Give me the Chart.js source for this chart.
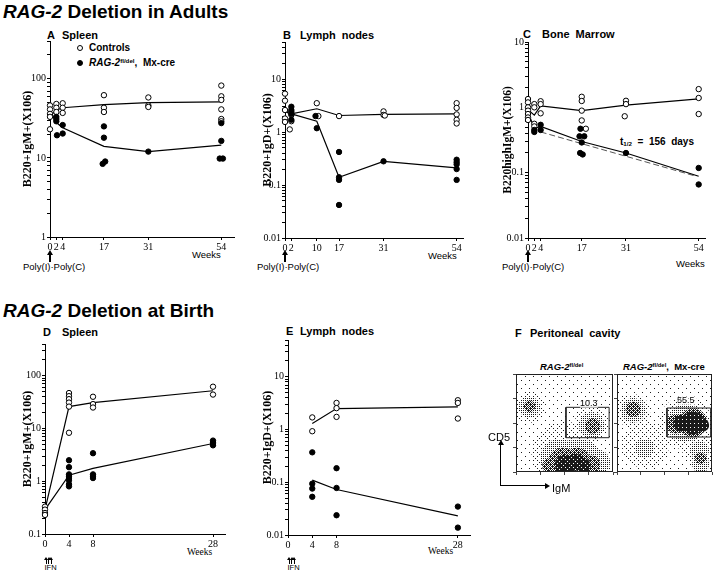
<!DOCTYPE html>
<html>
<head>
<meta charset="utf-8">
<title>RAG-2 deletion</title>
<script src="https://cdn.jsdelivr.net/npm/chart.js@4.4.1/dist/chart.umd.min.js"></script>
<style>
  html, body { margin: 0; padding: 0; background: #fff; }
  body { position: relative; width: 720px; height: 573px; overflow: hidden; font-family: "Liberation Sans", Arial, sans-serif; color: #000; }
  canvas { position: absolute; }
  .t { position: absolute; white-space: nowrap; line-height: 1; }
  .h { font-size: 19px; font-weight: bold; }
  .p { font-size: 11px; font-weight: bold; word-spacing: 3px; }
  .s { font-size: 9.5px; }
  .serif { font-family: "Liberation Serif", "Times New Roman", serif; }
  sup { font-size: 62%; vertical-align: 0.55em; line-height: 0; }
  sub { font-size: 62%; vertical-align: -0.2em; line-height: 0; }
  .head { position: absolute; width: 0; height: 0; border-left: 3px solid transparent; border-right: 3px solid transparent; border-bottom: 5px solid #000; }
  .small { border-left-width: 2px; border-right-width: 2px; border-bottom-width: 3px; }
  .right { position: absolute; width: 0; height: 0; border-top: 3px solid transparent; border-bottom: 3px solid transparent; border-left: 5px solid #000; }
  .bar { position: absolute; background: #000; }
  .dot { position: absolute; width: 6px; height: 6px; border-radius: 50%; border: 1px solid #000; box-sizing: border-box; }
</style>
</head>
<body>

<!-- top row -->
<div class="t h" style="left:3px;top:2px"><i>RAG-2</i> Deletion in Adults</div>

<div class="t p" style="left:47px;top:29.6px">A</div>
<div class="t p" style="left:62px;top:29.6px">Spleen</div>
<div class="dot" style="left:77px;top:45.3px;background:#fff"></div>
<div class="t" style="left:89px;top:43.4px;font-size:10px;font-weight:bold">Controls</div>
<div class="dot" style="left:77px;top:59.7px;background:#000"></div>
<div class="t" style="left:89px;top:57.8px;font-size:10px;font-weight:bold"><i>RAG-2</i><sup>fl/del</sup>,&nbsp; Mx-cre</div>
<div class="t s" style="left:192px;top:250.4px">Weeks</div>
<div class="head" style="left:47px;top:250px"></div><div class="bar" style="left:49px;top:255px;width:2px;height:7px"></div>
<div class="t s" style="left:23px;top:262px">Poly(I)·Poly(C)</div>

<div class="t p" style="left:283px;top:29.6px">B</div>
<div class="t p" style="left:300px;top:29.6px">Lymph nodes</div>
<div class="t s" style="left:428px;top:251.4px">Weeks</div>
<div class="head" style="left:282px;top:250px"></div><div class="bar" style="left:284px;top:255px;width:2px;height:7px"></div>
<div class="t s" style="left:257px;top:262px">Poly(I)·Poly(C)</div>

<div class="t p" style="left:523px;top:28.6px">C</div>
<div class="t p" style="left:542px;top:28.6px">Bone Marrow</div>
<div class="t" style="left:620px;top:137px;font-size:10px;font-weight:bold">t<sub>1/2</sub>&nbsp; = &nbsp;156&nbsp; days</div>
<div class="t s" style="left:676px;top:258.7px">Weeks</div>
<div class="head" style="left:525px;top:250px"></div><div class="bar" style="left:527px;top:255px;width:2px;height:7px"></div>
<div class="t s" style="left:502px;top:262px">Poly(I)·Poly(C)</div>

<!-- bottom row -->
<div class="t h" style="left:3px;top:300.7px"><i>RAG-2</i> Deletion at Birth</div>

<div class="t p" style="left:43px;top:326.6px">D</div>
<div class="t p" style="left:62px;top:326.6px">Spleen</div>
<div class="t s serif" style="left:187px;top:548.2px">Weeks</div>
<div class="head small" style="left:44px;top:556.5px"></div><div class="bar" style="left:45.5px;top:559.5px;width:1px;height:4px"></div>
<div class="head small" style="left:46.5px;top:556.5px"></div><div class="bar" style="left:48px;top:559.5px;width:1px;height:4px"></div>
<div class="head small" style="left:49px;top:556.5px"></div><div class="bar" style="left:50.5px;top:559.5px;width:1px;height:4px"></div>
<div class="t" style="left:44.5px;top:564px;font-size:7.5px">IFN</div>

<div class="t p" style="left:286px;top:325.6px">E</div>
<div class="t p" style="left:300px;top:325.6px">Lymph nodes</div>
<div class="t s serif" style="left:428px;top:546.9px">Weeks</div>
<div class="head small" style="left:287px;top:556.5px"></div><div class="bar" style="left:288.5px;top:559.5px;width:1px;height:4px"></div>
<div class="head small" style="left:289.5px;top:556.5px"></div><div class="bar" style="left:291px;top:559.5px;width:1px;height:4px"></div>
<div class="head small" style="left:292px;top:556.5px"></div><div class="bar" style="left:293.5px;top:559.5px;width:1px;height:4px"></div>
<div class="t" style="left:287.5px;top:564px;font-size:7.5px">IFN</div>

<div class="t p" style="left:515px;top:328px">F</div>
<div class="t p" style="left:530px;top:328px">Peritoneal cavity</div>
<div class="t" style="left:540px;top:362px;font-size:9.5px;font-weight:bold"><i>RAG-2</i><sup>fl/del</sup></div>
<div class="t" style="left:623px;top:362px;font-size:9.5px;font-weight:bold"><i>RAG-2</i><sup>fl/del</sup>,&nbsp; Mx-cre</div>

<canvas id="chartA"></canvas>
<canvas id="chartB"></canvas>
<canvas id="chartC"></canvas>
<canvas id="chartD"></canvas>
<canvas id="chartE"></canvas>
<canvas id="chartF1"></canvas>
<canvas id="chartF2"></canvas>

<div class="t" style="left:580px;top:398.6px;font-size:9px;background:rgba(255,255,255,0.6)">10.3</div>
<div class="t" style="left:677px;top:395.6px;font-size:9px;background:rgba(255,255,255,0.6)">55.5</div>
<div class="t" style="left:488px;top:431.6px;font-size:11px">CD5</div>
<div class="t" style="left:552px;top:482.6px;font-size:11px">IgM</div>
<div class="head" style="left:497.5px;top:440px"></div><div class="bar" style="left:500px;top:445px;width:1px;height:41px"></div>
<div class="bar" style="left:500px;top:485px;width:46px;height:1px"></div><div class="right" style="left:545px;top:482.5px"></div>

<script>
// A - spleen, deletion in adults (cells x10^6)
const aWeeks = [0, 2, 4, 17, 31, 54];
const aCtrlMean = [34, 40, 43, 47, 50, 51];
const aDelMean = [40, 28, 24, 14, 12, 14.5];
const aCtrl = [[0, 46], [0, 41], [0, 36], [0, 33], [0, 23], [2, 48], [2, 43], [2, 38], [4, 49], [4, 43], [4, 37],
  [17, 62], [17, 43], [17, 38], [31, 58], [31, 46], [31, 44], [54, 82], [54, 60], [54, 54], [54, 41], [54, 31], [54, 29]];
const aDel = [[2, 33], [2, 31], [2, 29], [2.2, 19.3], [4, 26], [4, 20.3], [17, 25], [17, 18], [16.6, 8.4], [17.4, 9],
  [31, 12], [54, 27.5], [54, 16.4], [53.5, 9.8], [54.5, 9.8]];
const aXTicks = [0, 2, 4, 17, 31, 54];
const aYTicks = [1, 10, 100];

// B - lymph nodes, deletion in adults
const bWeeks = [0, 2, 10, 17, 31, 54];
const bCtrlMean = [2.6, 2.2, 2.75, 2.05, 2.15, 2.2];
const bDelMean = [2.4, 2.2, 1.6, 0.14, 0.28, 0.21];
const bCtrl = [[0, 5.3], [0, 3.9], [0, 2.6], [0, 1.8], [0, 1.55], [2, 2.4], [2, 2.1], [2, 1.6], [1.5, 1.12],
  [10, 3.5], [10.5, 2.0], [17, 2.0], [31, 2.45], [31, 2.1], [31.4, 2.05],
  [54, 3.5], [54, 2.85], [54, 2.15], [54, 1.7], [54, 1.45]];
const bDel = [[2, 3.0], [2, 2.6], [2, 2.2], [2, 1.7], [9.6, 2.0], [10, 1.18], [17, 0.42], [17, 0.14], [17, 0.125],
  [17, 0.042], [31, 0.28], [54, 0.3], [54, 0.27], [54, 0.245], [54, 0.2], [54, 0.125]];
const bXTicks = [0, 2, 10, 17, 31, 54];
const bYTicks = [0.01, 0.1, 1, 10];

// C - bone marrow, deletion in adults
const cWeeks = [0, 2, 4, 17, 31, 54];
const cCtrlMean = [0.92, 0.76, 1.05, 0.89, 1.08, 1.35];
const cDelMean = [0.85, 0.47, 0.51, 0.3, 0.2, 0.088];
const cCtrl = [[0, 1.34], [0, 1.19], [0, 1.0], [0, 0.89], [0, 0.79], [0, 0.7], [0, 0.64], [2, 1.12], [2, 1.0],
  [2, 0.56], [2, 0.51], [4, 1.24], [4, 1.12], [4, 0.81], [17, 1.45], [17, 1.25], [17, 0.89], [17, 0.63], [18.3, 0.47],
  [31, 1.26], [31, 1.12], [30.6, 0.73], [54, 1.9], [54, 1.39], [54, 0.79]];
const cDel = [[2, 0.45], [2, 0.42], [4, 0.54], [4, 0.45], [16.6, 0.47], [16.3, 0.36], [17.8, 0.36], [17, 0.29],
  [16.5, 0.2], [17.3, 0.19], [31, 0.2], [54, 0.118], [54, 0.066]];
const cHalfLife = [[4, 0.42], [52.5, 0.09]];
const cXTicks = [0, 2, 4, 17, 31, 54];
const cYTicks = [0.01, 0.1, 1, 10];

// D - spleen, deletion at birth
const dWeeks = [0, 4, 8, 28];
const dCtrlMean = [0.29, 26, 31, 52];
const dDelMean = [0.29, 1.3, 1.75, 5.2];
const dCtrl = [[0, 0.33], [0, 0.29], [0, 0.25], [0, 0.23], [4, 47], [4, 41], [4, 36], [4, 31], [4, 26], [4, 8.3],
  [8, 40], [8, 29], [8, 25], [28, 62], [28, 44]];
const dDel = [[4, 2.5], [4, 1.85], [4, 1.35], [4, 1.25], [4, 1.15], [4, 1.05], [4, 0.88], [4, 0.8],
  [8, 3.4], [8, 1.35], [8, 1.25], [8, 1.15], [28, 5.9], [28, 5.5], [28, 5.1], [28, 4.8]];
const dXTicks = [0, 4, 8, 28];
const dYTicks = [0.1, 1, 10, 100];

// E - lymph nodes, deletion at birth
const eWeeks = [4, 8, 28];
const eCtrlMean = [1.3, 2.5, 2.7];
const eDelMean = [0.11, 0.073, 0.023];
const eCtrl = [[4, 1.7], [4, 0.93], [8, 3.2], [8, 2.55], [8, 1.74], [28, 3.6], [28, 3.2], [28, 1.62]];
const eDel = [[4, 0.37], [4, 0.094], [4, 0.076], [4, 0.053], [8, 0.185], [8, 0.078], [8, 0.0237],
  [28, 0.0346], [28, 0.0138]];
const eXTicks = [0, 4, 8, 28];
const eYTicks = [0.01, 0.1, 1, 10];

// F - peritoneal cavity, CD5 vs IgM (0-100 plot units); blobs are [IgM, CD5, spread]
const fLeftHaze = [[50, 40, 75]];
const fLeftSparse = [[50, 18, 34], [14, 66, 16], [78, 48, 18]];
const fLeftMid = [[14, 66, 11], [78, 48, 13], [45, 14, 20], [65, 12, 22], [84, 10, 13]];
const fLeftDense = [[14, 67, 6], [79, 47, 8], [48, 10, 15], [63, 12, 13], [36, 6, 9], [78, 8, 9]];
const fLeftCore = [[50, 8, 10], [61, 10, 9], [70, 7, 7]];
const fLeftGateX = [51.5, 96];
const fLeftGateY = [35, 66];

const fRightHaze = [[50, 40, 75]];
const fRightSparse = [[30, 28, 25], [86, 25, 18], [17, 62, 18], [72, 50, 28]];
const fRightMid = [[17, 63, 13], [72, 50, 20], [87, 22, 10], [88, 8, 9], [29, 24, 10]];
const fRightDense = [[17, 64, 8], [80, 50, 15], [62, 49, 10], [88, 14, 6]];
const fRightCore = [[80, 50, 12], [68, 50, 9], [90, 48, 7]];
const fRightGateX = [52.6, 98.6];
const fRightGateY = [35.7, 65.3];

const SERIF = '"Liberation Serif", "Times New Roman", serif';
Chart.defaults.animation = false;
Chart.defaults.font.family = SERIF;

function pts(list) { return list.map(([x, y]) => ({ x, y })); }
function meanLine(weeks, vals) { return weeks.map((w, i) => ({ x: w, y: vals[i] })); }

function logTicks(min, max) {
  const out = [];
  for (let e = Math.floor(Math.log10(min)); e <= Math.ceil(Math.log10(max)); e++) {
    for (let m = 1; m <= 9; m++) {
      const v = m * Math.pow(10, e);
      if (v >= min * 0.999 && v <= max * 1.001) out.push(v);
    }
  }
  return out;
}

function decadeLabel(v, list) {
  const hit = list.find(t => Math.abs(Math.log10(t) - Math.log10(v)) < 1e-6);
  return hit === undefined ? '' : String(hit);
}

function place(cv, left, top, w, h) {
  cv.width = Math.round(w);
  cv.height = Math.round(h);
  cv.style.left = left + 'px';
  cv.style.top = top + 'px';
}

// box = chart area edges in page pixels
function timeCourse(id, box, o) {
  const padTop = 8, padRight = 6, xAxisH = 16;
  const yAxisW = Math.round(box.l - (o.titleX - 7.2));
  place(document.getElementById(id), box.l - yAxisW, box.t - padTop,
    yAxisW + box.r - box.l + padRight, padTop + box.b - box.t + xAxisH);

  const datasets = [
    { data: pts(o.ctrl), pointRadius: 2.7, pointBackgroundColor: '#fff', pointBorderColor: '#000', pointBorderWidth: 1, order: 1, clip: false },
    { data: pts(o.del), pointRadius: 2.7, pointBackgroundColor: '#000', pointBorderColor: '#000', pointBorderWidth: 1, order: 0, clip: false },
    { data: meanLine(o.weeks, o.ctrlMean), showLine: true, pointRadius: 0, borderColor: '#000', borderWidth: 1.2, order: 3 },
    { data: meanLine(o.weeks, o.delMean), showLine: true, pointRadius: 0, borderColor: '#000', borderWidth: 1.2, order: 3 }
  ];
  if (o.fit) {
    datasets.push({ data: pts(o.fit), showLine: true, pointRadius: 0, borderColor: '#555', borderWidth: 1, borderDash: [6, 3], order: 4 });
  }

  const axisFont = { family: SERIF, size: 10 };
  new Chart(document.getElementById(id), {
    type: 'scatter',
    data: { datasets },
    options: {
      responsive: false,
      events: [],
      layout: { padding: { top: padTop, right: padRight, left: 0, bottom: 0 } },
      plugins: { legend: { display: false }, tooltip: { enabled: false } },
      scales: {
        x: {
          type: 'linear', min: 0, max: o.xMax,
          afterBuildTicks: s => { s.ticks = o.xTicks.map(v => ({ value: v })); },
          afterFit: s => { s.height = xAxisH; },
          ticks: { autoSkip: false, maxRotation: 0, padding: 1, color: '#000', font: axisFont },
          grid: { drawOnChartArea: false, tickLength: 3, color: '#000' },
          border: { color: '#000', width: 1 }
        },
        y: {
          type: 'logarithmic', min: o.yMin, max: o.yMax,
          afterBuildTicks: s => { s.ticks = logTicks(o.yMin, o.yMax).map(v => ({ value: v })); },
          afterFit: s => { s.width = yAxisW; },
          ticks: { autoSkip: false, padding: 1, color: '#000', font: axisFont, callback: v => decadeLabel(v, o.yTicks) },
          grid: { drawOnChartArea: false, tickLength: 3, color: '#000' },
          border: { color: '#000', width: 1 },
          title: { display: true, text: o.yTitle, padding: 0, color: '#000', font: { family: SERIF, size: o.titleSize || 12, weight: 'bold' } }
        }
      }
    }
  });
}

timeCourse('chartA', { l: 50, t: 41, r: 234, b: 237 }, {
  weeks: aWeeks, ctrlMean: aCtrlMean, delMean: aDelMean, ctrl: aCtrl, del: aDel,
  xTicks: aXTicks, yTicks: aYTicks, xMax: 58, yMin: 1, yMax: 300, yTitle: 'B220+IgM+(X106)', titleX: 28
});
timeCourse('chartB', { l: 285, t: 42, r: 463, b: 238 }, {
  weeks: bWeeks, ctrlMean: bCtrlMean, delMean: bDelMean, ctrl: bCtrl, del: bDel,
  xTicks: bXTicks, yTicks: bYTicks, xMax: 56, yMin: 0.01, yMax: 50, yTitle: 'B220+IgD+(X106)', titleX: 268
});
timeCourse('chartC', { l: 528, t: 42, r: 705, b: 238 }, {
  weeks: cWeeks, ctrlMean: cCtrlMean, delMean: cDelMean, ctrl: cCtrl, del: cDel, fit: cHalfLife,
  xTicks: cXTicks, yTicks: cYTicks, xMax: 56, yMin: 0.01, yMax: 10, yTitle: 'B220highIgM+(X106)', titleX: 508, titleSize: 11.5
});
timeCourse('chartD', { l: 45, t: 344, r: 225, b: 534 }, {
  weeks: dWeeks, ctrlMean: dCtrlMean, delMean: dDelMean, ctrl: dCtrl, del: dDel,
  xTicks: dXTicks, yTicks: dYTicks, xMax: 30, yMin: 0.1, yMax: 400, yTitle: 'B220+IgM+(X106)', titleX: 28
});
timeCourse('chartE', { l: 288, t: 340, r: 470, b: 535 }, {
  weeks: eWeeks, ctrlMean: eCtrlMean, delMean: eDelMean, ctrl: eCtrl, del: eDel,
  xTicks: eXTicks, yTicks: eYTicks, xMax: 30, yMin: 0.01, yMax: 50, yTitle: 'B220+IgD+(X106)', titleX: 268
});

// ordered-dither stipple used to mimic the dot density of the FACS plots
function bayer(n) {
  let m = [[0]];
  while (m.length < n) {
    const s = m.length, next = [];
    for (let y = 0; y < 2 * s; y++) {
      next.push([]);
      for (let x = 0; x < 2 * s; x++) {
        next[y].push(m[y % s][x % s] * 4 + [0, 2, 3, 1][(y >= s ? 2 : 0) + (x >= s ? 1 : 0)]);
      }
    }
    m = next;
  }
  return m;
}
const BAYER = bayer(8);
function stipple(level) {
  const c = document.createElement('canvas');
  c.width = c.height = 8;
  const g = c.getContext('2d');
  g.fillStyle = '#1a1a1a';
  for (let y = 0; y < 8; y++) for (let x = 0; x < 8; x++) if (BAYER[y][x] < level) g.fillRect(x, y, 1, 1);
  return g.createPattern(c, 'repeat');
}

const framePlugin = {
  id: 'frame',
  afterDatasetsDraw(chart) {
    const { ctx, chartArea: a } = chart;
    ctx.save();
    ctx.strokeStyle = '#222';
    ctx.lineWidth = 1;
    ctx.strokeRect(a.left + 0.5, a.top + 0.5, a.width - 1, a.height - 1);
    ctx.restore();
  }
};

function flowPlot(id, box, layers, gateX, gateY) {
  place(document.getElementById(id), box.l - 3, box.t - 2, box.r - box.l + 5, box.b - box.t + 5);
  // blob radius follows the x scale, so spreads stay in plot units
  const spreadPx = ctx => {
    if (!ctx.raw) return 0;
    const sc = ctx.chart.scales.x;
    return sc.getPixelForValue(ctx.raw.s) - sc.getPixelForValue(0);
  };
  const datasets = layers.map(([blobs, level]) => ({
    data: blobs.map(([x, y, s]) => ({ x, y, s })),
    pointBackgroundColor: stipple(level),
    pointBorderWidth: 0,
    pointRadius: spreadPx,
    clip: 0
  }));
  datasets.push({
    showLine: true, pointRadius: 0, borderColor: '#222', borderWidth: 1, clip: false,
    data: [[gateX[0], gateY[0]], [gateX[1], gateY[0]], [gateX[1], gateY[1]], [gateX[0], gateY[1]], [gateX[0], gateY[0]]]
      .map(([x, y]) => ({ x, y }))
  });
  const axis = (fit) => ({
    type: 'linear', min: 0, max: 100,
    afterBuildTicks: s => { s.ticks = [0, 25, 50, 75, 100].map(v => ({ value: v })); },
    afterFit: fit,
    ticks: { display: false },
    grid: { drawOnChartArea: false, tickLength: 3, color: '#444' },
    border: { display: false }
  });
  new Chart(document.getElementById(id), {
    type: 'scatter',
    data: { datasets },
    plugins: [framePlugin],
    options: {
      responsive: false,
      events: [],
      layout: { padding: { top: 2, right: 2, left: 0, bottom: 0 } },
      plugins: { legend: { display: false }, tooltip: { enabled: false } },
      scales: {
        x: axis(s => { s.height = 3; }),
        y: axis(s => { s.width = 3; })
      }
    }
  });
}

flowPlot('chartF1', { l: 516, t: 374, r: 613, b: 472 },
  [[fLeftHaze, 2], [fLeftSparse, 6], [fLeftMid, 16], [fLeftDense, 38], [fLeftCore, 58]], fLeftGateX, fLeftGateY);
flowPlot('chartF2', { l: 617, t: 374, r: 712, b: 472 },
  [[fRightHaze, 2], [fRightSparse, 6], [fRightMid, 16], [fRightDense, 40], [fRightCore, 60]], fRightGateX, fRightGateY);
</script>
</body>
</html>
